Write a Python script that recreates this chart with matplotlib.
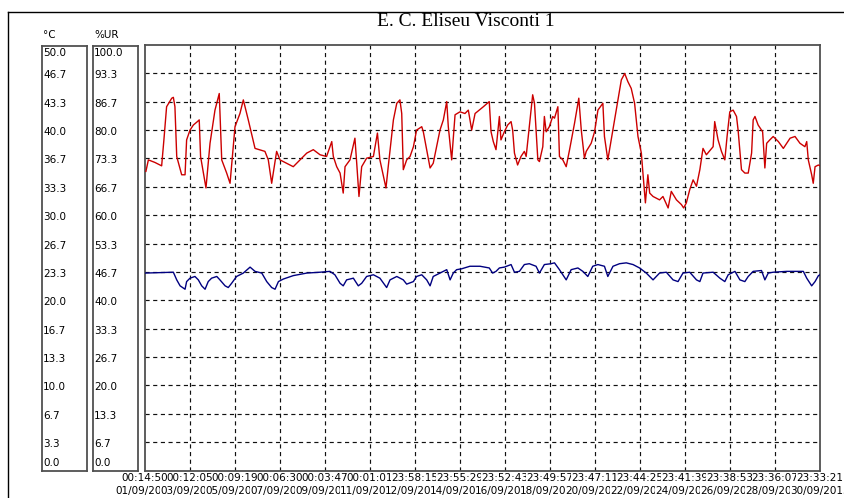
import matplotlib
matplotlib.use("Agg")
import matplotlib.pyplot as plt
from matplotlib.lines import Line2D
from matplotlib.transforms import blended_transform_factory, offset_copy

# ---------------- data ----------------
title = "E. C. Eliseu Visconti 1"
temp_unit = "°C"
hum_unit = "%UR"

temp_ticks = ["0.0", "3.3", "6.7", "10.0", "13.3", "16.7", "20.0", "23.3",
              "26.7", "30.0", "33.3", "36.7", "40.0", "43.3", "46.7", "50.0"]
hum_ticks = ["0.0", "6.7", "13.3", "20.0", "26.7", "33.3", "40.0", "46.7",
             "53.3", "60.0", "66.7", "73.3", "80.0", "86.7", "93.3", "100.0"]

time_labels = ["00:14:50", "00:12:05", "00:09:19", "00:06:30", "00:03:47", "00:01:01",
               "23:58:15", "23:55:29", "23:52:43", "23:49:57", "23:47:11", "23:44:25",
               "23:41:39", "23:38:53", "23:36:07", "23:33:21"]
date_labels = ["01/09/2013", "03/09/2013", "05/09/2013", "07/09/2013", "09/09/2013",
               "11/09/2013", "12/09/2013", "14/09/2013", "16/09/2013", "18/09/2013",
               "20/09/2013", "22/09/2013", "24/09/2013", "26/09/2013", "28/09/2013",
               "30/09/2013"]

# humidity (%UR) - elapsed days / value
hum_day = [0.04, 0.15, 0.44, 0.74, 0.84, 0.96, 1.19, 1.26, 1.33, 1.41, 1.63, 1.78, 1.85,
           2.00, 2.15, 2.33, 2.41, 2.47, 2.71, 2.89, 3.11, 3.30, 3.41, 3.63, 3.78, 4.00,
           4.22, 4.37, 4.59, 4.89, 5.33, 5.48, 5.63, 5.85, 6.00, 6.15, 6.59, 6.89, 7.19,
           7.48, 7.78, 8.07, 8.30, 8.37, 8.52, 8.67, 8.81, 8.89, 9.11, 9.33, 9.41, 9.51,
           9.63, 9.85, 10.15, 10.33, 10.44, 10.71, 10.81, 11.04, 11.19, 11.33, 11.41,
           11.48, 11.63, 11.78, 11.93, 12.07, 12.30, 12.37, 12.52, 12.67, 12.81, 12.96,
           13.11, 13.26, 13.41, 13.48, 13.63, 13.78, 14.00, 14.22, 14.37, 14.52, 14.67,
           15.04, 15.30, 15.38, 15.48, 15.60, 15.75, 15.82, 15.97, 16.12, 16.27, 16.34,
           16.42, 16.56, 16.71, 16.86, 16.94, 17.08, 17.23, 17.31, 17.46, 17.53, 17.68,
           17.75, 17.83, 17.97, 18.12, 18.20, 18.35, 18.42, 18.57, 18.72, 18.87, 19.09,
           19.28, 19.39, 19.53, 19.61, 19.83, 19.98, 20.13, 20.35, 20.42, 20.57, 20.72,
           20.94, 21.17, 21.32, 21.46, 21.61, 21.76, 21.91, 22.06, 22.13, 22.24, 22.35,
           22.43, 22.58, 22.87, 23.02, 23.25, 23.39, 23.62, 23.84, 23.94, 24.06, 24.21,
           24.36, 24.51, 24.66, 24.80, 24.95, 25.25, 25.32, 25.47, 25.62, 25.77, 25.87,
           25.99, 26.14, 26.29, 26.36, 26.51, 26.66, 26.81, 26.96, 27.03, 27.11, 27.25,
           27.45, 27.55, 27.63, 27.77, 27.92, 28.15, 28.37, 28.67, 28.89, 29.11, 29.33,
           29.41, 29.48, 29.63, 29.70, 29.78, 29.93, 30.00]
hum_val = [70.3, 73.0, 72.4, 71.6, 77.7, 85.5, 87.5, 87.7, 85.5, 73.8, 69.5, 69.5, 77.7,
           80.0, 81.2, 82.0, 82.4, 73.8, 66.4, 76.9, 84.7, 88.6, 73.0, 69.9, 67.5, 80.8,
           83.9, 87.1, 82.4, 75.7, 75.0, 73.0, 67.5, 75.0, 73.0, 72.6, 71.4, 73.0, 74.6,
           75.4, 74.2, 73.8, 77.3, 73.8, 71.4, 69.9, 65.2, 71.4, 73.0, 78.1, 72.2, 64.4,
           71.4, 73.4, 73.8, 79.3, 73.0, 66.4, 71.4, 82.4, 86.3, 87.1, 83.9,
           70.7, 73.0, 73.8, 76.1, 80.0, 80.8, 79.6, 75.4, 71.1, 72.2, 76.1,
           80.0, 82.4, 86.7, 80.8, 73.0, 83.6, 84.3, 83.9, 84.7, 80.0, 83.9,
           85.5, 86.7, 79.6, 77.3, 75.4, 83.2, 77.7, 79.6, 81.2, 82.0, 80.0,
           74.6, 71.8, 73.8, 75.0, 73.8, 80.8, 88.3, 86.3, 73.0, 72.6, 76.1,
           83.2, 79.6, 80.8, 83.2, 82.8, 85.5, 73.8, 73.0, 71.4, 75.4, 81.6,
           87.5, 80.0, 73.4, 75.0, 76.9, 79.6, 84.7, 86.3, 78.5, 73.0, 77.7,
           84.7, 91.8, 93.3, 91.4, 89.8, 86.3, 78.5, 74.6, 69.9, 62.9, 69.5,
           65.2, 64.4, 63.6, 64.4, 61.7, 65.6, 63.6, 62.5, 61.7, 62.9, 66.0,
           68.3, 66.8, 70.7, 75.7, 74.2, 76.1, 82.0, 77.7, 75.0, 73.0, 78.5,
           84.3, 84.7, 83.2, 80.0, 70.7, 69.9, 69.9, 74.6, 82.4, 83.2, 81.2,
           79.6, 71.1, 76.9, 77.7, 78.5, 77.3, 75.7, 78.1, 78.5, 76.9, 76.1,
           77.3, 73.0, 69.5, 67.5, 71.4, 71.8, 71.6]

# temperature (°C) - elapsed days / value
temp_day = [0.00, 1.26, 1.41, 1.56, 1.78, 1.85, 2.00, 2.22, 2.37, 2.52, 2.67, 2.81, 2.96,
            3.19, 3.33, 3.56, 3.70, 3.85, 4.07, 4.37, 4.67, 4.89, 5.19, 5.41, 5.63, 5.78,
            5.93, 6.15, 6.59, 7.19, 7.78, 8.22, 8.44, 8.67, 8.81, 8.96, 9.26, 9.48, 9.63,
            9.85, 10.15, 10.44, 10.74, 10.89, 11.19, 11.48, 11.63, 11.93, 12.07, 12.30,
            12.52, 12.67, 12.81, 13.11, 13.41, 13.56, 13.70, 13.85, 14.07, 14.44, 14.89,
            15.30, 15.45, 15.60, 15.75, 15.97, 16.27, 16.42, 16.64, 16.86, 17.08, 17.38,
            17.53, 17.75, 18.05, 18.20, 18.42, 18.72, 18.94, 19.24, 19.46, 19.68, 19.90,
            20.13, 20.42, 20.57, 20.80, 21.09, 21.39, 21.69, 21.98, 22.28, 22.58, 22.87,
            23.17, 23.47, 23.69, 23.91, 24.21, 24.51, 24.66, 24.80, 25.25, 25.55, 25.77,
            25.92, 26.22, 26.44, 26.66, 26.81, 27.03, 27.40, 27.55, 27.70, 27.92, 28.52,
            29.26, 29.41, 29.63, 29.78, 29.93, 30.00]
temp_val = [23.2, 23.3, 22.4, 21.7, 21.3, 22.2, 22.6, 22.8, 22.4, 21.7, 21.3, 22.2, 22.6,
            22.8, 22.4, 21.7, 21.5, 22.0, 22.8, 23.2, 23.9, 23.4, 23.2, 22.2, 21.5, 21.3,
            22.2, 22.5, 22.9, 23.2, 23.3, 23.4, 23.0, 22.0, 21.7, 22.4, 22.6, 21.7, 22.0,
            22.8, 23.0, 22.6, 21.5, 22.4, 22.8, 22.4, 21.9, 22.2, 22.8, 23.0,
            22.4, 21.7, 22.8, 23.2, 23.6, 22.4, 23.2, 23.6, 23.7, 24.0, 24.0,
            23.8, 23.2, 23.4, 23.8, 23.9, 24.2, 23.3, 23.4, 24.2, 24.3, 24.0,
            23.2, 24.2, 24.3, 24.4, 23.6, 22.4, 23.6, 23.8, 23.4, 22.8, 24.0,
            24.2, 24.0, 22.8, 24.0, 24.3, 24.4, 24.2, 23.8, 23.2, 22.4, 23.2,
            23.3, 22.4, 22.2, 23.2, 23.3, 22.4, 22.2, 23.2, 23.3, 22.6, 22.2,
            23.0, 23.4, 22.4, 22.2, 22.8, 23.4, 23.5, 22.4, 23.2, 23.3, 23.4,
            23.4, 22.6, 21.7, 22.2, 22.9, 23.0]

# ---------------- figure ----------------
W, H = 845, 498
fig = plt.figure(figsize=(W / 100, H / 100), dpi=100)
fig.patch.set_facecolor("white")


def fx(px):
    return px / W


def fy(py):
    return 1 - py / H


plot_l, plot_r, plot_t, plot_b = 145, 820, 45, 470.5
ax = fig.add_axes([fx(plot_l), fy(plot_b), (plot_r - plot_l) / W, (plot_b - plot_t) / H])
ax.set_xlim(0, 30)
ax.set_ylim(0, 50)
ax.set_xticks([])
ax.set_yticks([])
for s in ax.spines.values():
    s.set_color("#505050")
    s.set_linewidth(1.3)

n_int = len(time_labels) - 1
for k in range(1, n_int):
    ax.axvline(30 * k / n_int, color="#111111", lw=0.85, ls=(0, (3.5, 3)), zorder=1)
for k in range(1, len(temp_ticks) - 1):
    ax.axhline(50 * k / (len(temp_ticks) - 1), color="#111111", lw=0.85,
               ls=(0, (3.5, 3)), zorder=1)

ax_h = ax.twinx()
ax_h.set_ylim(0, 100)
ax_h.set_axis_off()

ax.plot(temp_day, temp_val, color="#000080", lw=1.0, zorder=3)
ax_h.plot(hum_day, hum_val, color="#CC0000", lw=1.0, zorder=3)

# scale boxes
box_top, box_bot = 46, 471
for (l, r) in [(41.7, 87.3), (92.7, 138.3)]:
    b = fig.add_axes([fx(l), fy(box_bot), (r - l) / W, (box_bot - box_top) / H])
    b.set_xticks([])
    b.set_yticks([])
    for s in b.spines.values():
        s.set_color("#505050")
        s.set_linewidth(1.3)

fs = 7.5
fig.text(fx(43), fy(35), temp_unit, fontsize=fs, ha="left", va="center")
fig.text(fx(94), fy(35), hum_unit, fontsize=fs, ha="left", va="center")

ytrans = blended_transform_factory(fig.transFigure, ax.transData)
for k in range(len(temp_ticks)):
    val = 50 * k / (len(temp_ticks) - 1)
    if k == len(temp_ticks) - 1:
        tr, va = offset_copy(ytrans, fig=fig, x=0, y=-3, units="dots"), "top"
    elif k == 0:
        tr, va = offset_copy(ytrans, fig=fig, x=0, y=3, units="dots"), "bottom"
    else:
        tr, va = offset_copy(ytrans, fig=fig, x=0, y=-2, units="dots"), "center"
    fig.text(fx(43), val, temp_ticks[k], transform=tr, fontsize=fs, ha="left", va=va)
    fig.text(fx(94), val, hum_ticks[k], transform=tr, fontsize=fs, ha="left", va=va)

# bottom labels (later ones drawn over earlier ones, as in the reference)
xtrans = blended_transform_factory(ax.transData, fig.transFigure)
for i, (t, d) in enumerate(zip(time_labels, date_labels)):
    xpos = 30 * i / n_int
    fig.text(xpos, fy(478), t, transform=xtrans, fontsize=fs, ha="center", va="center",
             bbox=dict(boxstyle="square,pad=0", fc="white", ec="none"))
    fig.text(xpos, fy(491), d, transform=xtrans, fontsize=fs, ha="center", va="center",
             bbox=dict(boxstyle="square,pad=0", fc="white", ec="none"))

# title
fig.text(fx(466), fy(22), title, fontsize=14, family="Liberation Serif",
         ha="center", va="center")

# outer frame
fig.add_artist(Line2D([fx(8), 1], [fy(12), fy(12)], transform=fig.transFigure,
                      color="black", lw=1.0))
fig.add_artist(Line2D([fx(8), fx(8)], [fy(12), 0], transform=fig.transFigure,
                      color="black", lw=1.0))

fig.savefig("out.png", dpi=100, facecolor="white")
